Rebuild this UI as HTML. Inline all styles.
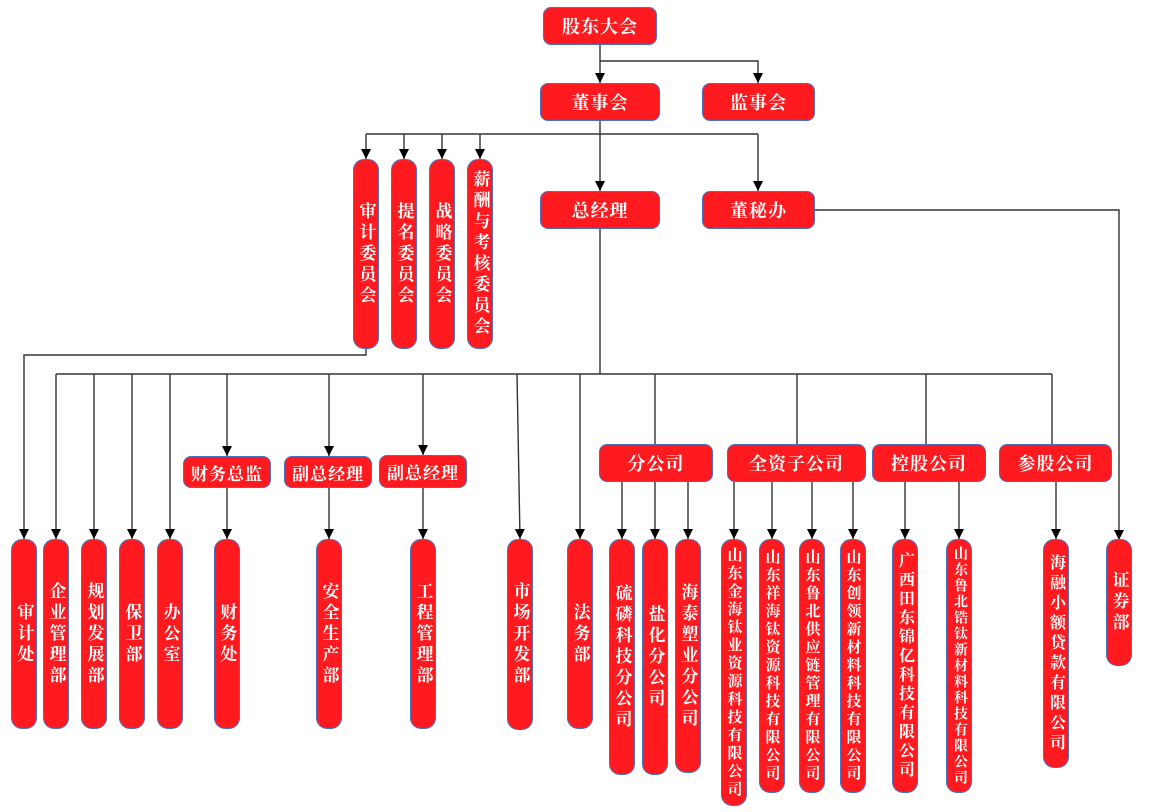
<!DOCTYPE html>
<html><head><meta charset="utf-8"><style>
body{margin:0;width:1150px;height:812px;background:#fff;position:relative;overflow:hidden;font-family:"Liberation Serif","Noto Serif CJK SC",serif;}
.b{position:absolute;background:#fe1a1e;border:1.5px solid #4a72c4;box-sizing:border-box;color:#fff;font-weight:bold;display:flex;align-items:center;justify-content:center;white-space:nowrap;}
.h{border-radius:8px;font-size:18px;letter-spacing:1px;}
.v{border-radius:11px;font-size:17px;writing-mode:vertical-rl;text-orientation:upright;letter-spacing:4px;}
svg{position:absolute;left:0;top:0;}
</style></head><body>
<svg width="1150" height="812">
<defs><marker id="a" markerWidth="10" markerHeight="10" refX="10" refY="5" orient="auto" markerUnits="userSpaceOnUse"><path d="M0,0 L10,5 L0,10 z" fill="#000" stroke="none"/></marker></defs>
<g stroke="#333" stroke-width="1.4" fill="none">
<path d="M600,45 V83" marker-end="url(#a)"/>
<path d="M600,61 H758 V83" marker-end="url(#a)"/>
<path d="M600,121 V191" marker-end="url(#a)"/>
<path d="M366,134 H758"/>
<path d="M366,134 V159" marker-end="url(#a)"/>
<path d="M404,134 V159" marker-end="url(#a)"/>
<path d="M442,134 V159" marker-end="url(#a)"/>
<path d="M480,134 V159" marker-end="url(#a)"/>
<path d="M758,134 V191" marker-end="url(#a)"/>
<path d="M815,210 H1119 V540" marker-end="url(#a)"/>
<path d="M366,349 V355 H24 V539" marker-end="url(#a)"/>
<path d="M600,229 V374"/>
<path d="M56,374 H1052"/>
<path d="M56,374 V539" marker-end="url(#a)"/>
<path d="M94,374 V539" marker-end="url(#a)"/>
<path d="M132,374 V539" marker-end="url(#a)"/>
<path d="M170,374 V539" marker-end="url(#a)"/>
<path d="M227,374 V456" marker-end="url(#a)"/>
<path d="M329,374 V456" marker-end="url(#a)"/>
<path d="M423,374 V455" marker-end="url(#a)"/>
<path d="M517,374 L520,539" marker-end="url(#a)"/>
<path d="M580,374 V539" marker-end="url(#a)"/>
<path d="M655,374 V444"/>
<path d="M797,374 V444"/>
<path d="M926,374 V444"/>
<path d="M1052,374 V444"/>
<path d="M227,488 V539" marker-end="url(#a)"/>
<path d="M329,488 V539" marker-end="url(#a)"/>
<path d="M423,488 V539" marker-end="url(#a)"/>
<path d="M622,482 V539" marker-end="url(#a)"/>
<path d="M655,482 V539" marker-end="url(#a)"/>
<path d="M688,482 V539" marker-end="url(#a)"/>
<path d="M734,482 V539" marker-end="url(#a)"/>
<path d="M772,482 V539" marker-end="url(#a)"/>
<path d="M812,482 V539" marker-end="url(#a)"/>
<path d="M853,482 V539" marker-end="url(#a)"/>
<path d="M905,482 V539" marker-end="url(#a)"/>
<path d="M959,482 V539" marker-end="url(#a)"/>
<path d="M1056,482 V539" marker-end="url(#a)"/>
</g></svg>

<div class="b h" style="left:543px;top:7px;width:114px;height:38px">股东大会</div>
<div class="b h" style="left:540px;top:83px;width:120px;height:38px">董事会</div>
<div class="b h" style="left:702px;top:83px;width:113px;height:38px">监事会</div>
<div class="b h" style="left:540px;top:191px;width:120px;height:38px">总经理</div>
<div class="b h" style="left:702px;top:191px;width:113px;height:38px">董秘办</div>

<div class="b v" style="left:353px;top:159px;width:26px;height:190px">审计委员会</div>
<div class="b v" style="left:391px;top:159px;width:26px;height:190px">提名委员会</div>
<div class="b v" style="left:429px;top:159px;width:26px;height:190px">战略委员会</div>
<div class="b v" style="left:467px;top:159px;width:26px;height:190px;letter-spacing:4px">薪酬与考核委员会</div>

<div class="b h" style="left:183px;top:456px;width:88px;height:32px;font-size:17px">财务总监</div>
<div class="b h" style="left:284px;top:456px;width:88px;height:32px;font-size:17px">副总经理</div>
<div class="b h" style="left:379px;top:455px;width:88px;height:33px;font-size:17px">副总经理</div>
<div class="b h" style="left:599px;top:444px;width:114px;height:38px">分公司</div>
<div class="b h" style="left:727px;top:444px;width:139px;height:38px">全资子公司</div>
<div class="b h" style="left:872px;top:444px;width:114px;height:38px">控股公司</div>
<div class="b h" style="left:999px;top:444px;width:113px;height:38px">参股公司</div>

<div class="b v" style="left:11px;top:539px;width:26px;height:190px">审计处</div>
<div class="b v" style="left:43px;top:539px;width:26px;height:190px">企业管理部</div>
<div class="b v" style="left:81px;top:539px;width:26px;height:190px">规划发展部</div>
<div class="b v" style="left:119px;top:539px;width:26px;height:190px">保卫部</div>
<div class="b v" style="left:157px;top:539px;width:26px;height:190px">办公室</div>
<div class="b v" style="left:214px;top:539px;width:26px;height:190px">财务处</div>
<div class="b v" style="left:316px;top:539px;width:26px;height:190px">安全生产部</div>
<div class="b v" style="left:410px;top:539px;width:26px;height:190px">工程管理部</div>
<div class="b v" style="left:507px;top:539px;width:26px;height:191px">市场开发部</div>
<div class="b v" style="left:567px;top:539px;width:26px;height:190px">法务部</div>

<div class="b v" style="left:609px;top:539px;width:26px;height:236px">硫磷科技分公司</div>
<div class="b v" style="left:642px;top:539px;width:26px;height:236px">盐化分公司</div>
<div class="b v" style="left:675px;top:539px;width:26px;height:234px">海泰塑业分公司</div>
<div class="b v" style="left:721px;top:539px;width:26px;height:267px;letter-spacing:3px;font-size:15px">山东金海钛业资源科技有限公司</div>
<div class="b v" style="left:759px;top:539px;width:26px;height:254px;letter-spacing:3px;font-size:15px">山东祥海钛资源科技有限公司</div>
<div class="b v" style="left:799px;top:539px;width:26px;height:254px;letter-spacing:3px;font-size:15px">山东鲁北供应链管理有限公司</div>
<div class="b v" style="left:840px;top:539px;width:26px;height:254px;letter-spacing:3px;font-size:15px">山东创领新材料科技有限公司</div>
<div class="b v" style="left:892px;top:539px;width:26px;height:254px;letter-spacing:3px;font-size:16px">广西田东锦亿科技有限公司</div>
<div class="b v" style="left:946px;top:539px;width:26px;height:254px;letter-spacing:2px;font-size:14px">山东鲁北锆钛新材料科技有限公司</div>
<div class="b v" style="left:1043px;top:539px;width:26px;height:229px;letter-spacing:4px;font-size:16px">海融小额贷款有限公司</div>
<div class="b v" style="left:1106px;top:539px;width:26px;height:127px">证券部</div>
</body></html>
